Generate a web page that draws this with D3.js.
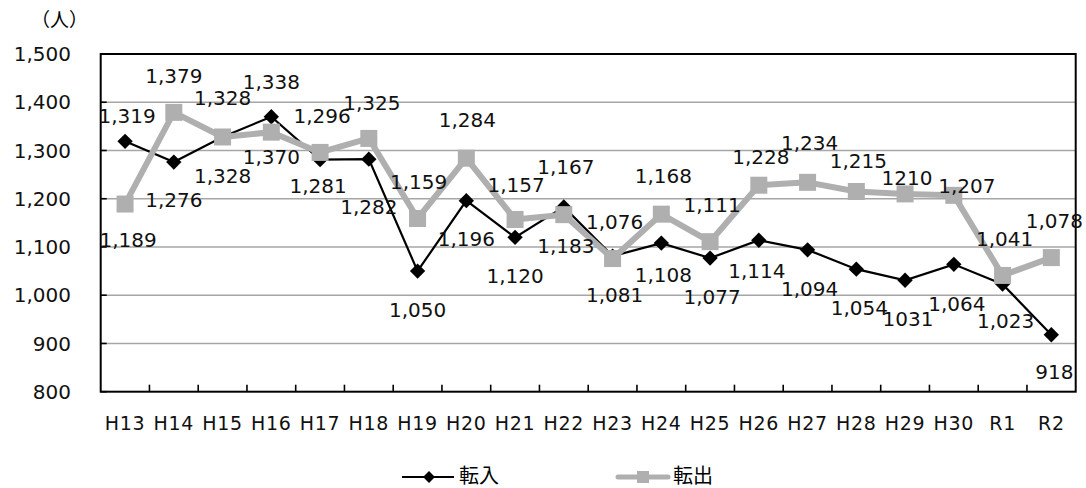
<!DOCTYPE html>
<html>
<head>
<meta charset="utf-8">
<script src="https://cdn.jsdelivr.net/npm/d3@7"></script>
<style>
  body { margin: 0; background: #fff; }
  svg { display: block; font-family: "DejaVu Sans", Verdana, "Noto Sans CJK JP", sans-serif; }
</style>
</head>
<body>
<svg id="chart" width="1086" height="488"></svg>
<script>
"use strict";

// data
var years = ["H13","H14","H15","H16","H17","H18","H19","H20","H21","H22",
             "H23","H24","H25","H26","H27","H28","H29","H30","R1","R2"];
var tennyu = [1319,1276,1328,1370,1281,1282,1050,1196,1120,1183,
              1081,1108,1077,1114,1094,1054,1031,1064,1023,918];
var tenshutsu = [1189,1379,1328,1338,1296,1325,1159,1284,1157,1167,
                 1076,1168,1111,1228,1234,1215,1210,1207,1041,1078];
var yTicks = [800,900,1000,1100,1200,1300,1400,1500];
// labels printed without thousands separator in the original
var plainLabelYears = ["H29"];

// label placement (offset from the marker, px)
var inLabelDy  = [-26,38,39,40,26,48,39,38,38,39,39,32,39,31,39,39,39,39,37,37];
var inLabelDx  = [2,0,0,0,-2,0,0,0,0,2,2,2,2,-2,2,3,3,3,3,3];
var outLabelDy = [36,-37,-39,-50,-37,-36,-37,-38,-35,-48,-37,-38,-37,-28,-40,-31,-16,-10,-37,-37];
var outLabelDx = [3,0,0,0,2,3,1,1,1,2,2,2,2,2,2,2,2,13,2,3];

var plotL = 100.7, plotR = 1075.7, plotT = 54, plotB = 391.7;

var svg = d3.select('#chart');

var x = d3.scaleBand().domain(years).range([plotL, plotR]);
var y = d3.scaleLinear().domain([800, 1500]).range([plotB, plotT]);
var cx = function (d, i) { return x(years[i]) + x.bandwidth() / 2; };

var fmt = function (v, i) {
  return plainLabelYears.indexOf(years[i]) >= 0 ? String(v) : d3.format(',')(v);
};

// gridlines
svg.append('g').selectAll('line')
  .data(yTicks.filter(function (t) { return t > 800 && t < 1500; }))
  .enter().append('line')
  .attr('x1', plotL).attr('x2', plotR)
  .attr('y1', function (t) { return y(t); })
  .attr('y2', function (t) { return y(t); })
  .attr('stroke', '#a6a6a6').attr('stroke-width', 1.6);

// y tick labels
svg.append('g').selectAll('text')
  .data(yTicks).enter().append('text')
  .attr('x', 71).attr('y', function (t) { return y(t); })
  .attr('dy', '0.36em')
  .attr('text-anchor', 'end')
  .attr('font-size', 20).attr('fill', '#111')
  .text(function (t) { return d3.format(',')(t); });

// y inner ticks
svg.append('g').selectAll('line')
  .data(yTicks).enter().append('line')
  .attr('x1', plotL).attr('x2', plotL + 6)
  .attr('y1', function (t) { return y(t); })
  .attr('y2', function (t) { return y(t); })
  .attr('stroke', '#000').attr('stroke-width', 1.6);

// x inner ticks at band boundaries
svg.append('g').selectAll('line')
  .data(years.slice(1)).enter().append('line')
  .attr('x1', function (d) { return x(d); })
  .attr('x2', function (d) { return x(d); })
  .attr('y1', plotB).attr('y2', plotB - 7)
  .attr('stroke', '#000').attr('stroke-width', 1.6);

// frame
svg.append('rect')
  .attr('x', plotL).attr('y', plotT)
  .attr('width', plotR - plotL).attr('height', plotB - plotT)
  .attr('fill', 'none').attr('stroke', '#000').attr('stroke-width', 2);

// x labels
svg.append('g').selectAll('text')
  .data(years).enter().append('text')
  .attr('x', function (d) { return x(d) + x.bandwidth() / 2; })
  .attr('y', 423).attr('dy', '0.36em')
  .attr('text-anchor', 'middle')
  .attr('font-size', 19).attr('letter-spacing', 0.8).attr('fill', '#111')
  .text(function (d) { return d; });

// unit
svg.append('text')
  .attr('x', 31).attr('y', 20).attr('dy', '0.36em')
  .attr('font-size', 19)
  .attr('font-family', '"Noto Sans CJK JP", sans-serif')
  .text('（人）');

var lineGen = d3.line()
  .x(cx)
  .y(function (d) { return y(d); });

// 転入 series
svg.append('path').datum(tennyu)
  .attr('d', lineGen)
  .attr('fill', 'none').attr('stroke', '#000').attr('stroke-width', 2.2);
svg.append('g').selectAll('path')
  .data(tennyu).enter().append('path')
  .attr('d', d3.symbol().type(d3.symbolDiamond2).size(150))
  .attr('transform', function (d, i) { return 'translate(' + cx(d, i) + ',' + y(d) + ')'; })
  .attr('fill', '#000');

// 転出 series
var grey = '#afafaf';
svg.append('path').datum(tenshutsu)
  .attr('d', lineGen)
  .attr('fill', 'none').attr('stroke', grey).attr('stroke-width', 6)
  .attr('stroke-linejoin', 'round');
svg.append('g').selectAll('rect')
  .data(tenshutsu).enter().append('rect')
  .attr('x', function (d, i) { return cx(d, i) - 8.5; })
  .attr('y', function (d) { return y(d) - 8.5; })
  .attr('width', 17).attr('height', 17)
  .attr('fill', grey);

// data labels
svg.append('g').selectAll('text')
  .data(tennyu).enter().append('text')
  .attr('x', function (d, i) { return cx(d, i) + inLabelDx[i]; })
  .attr('y', function (d, i) { return y(d) + inLabelDy[i]; })
  .attr('dy', '0.36em').attr('text-anchor', 'middle')
  .attr('font-size', 20).attr('fill', '#111')
  .text(fmt);
svg.append('g').selectAll('text')
  .data(tenshutsu).enter().append('text')
  .attr('x', function (d, i) { return cx(d, i) + outLabelDx[i]; })
  .attr('y', function (d, i) { return y(d) + outLabelDy[i]; })
  .attr('dy', '0.36em').attr('text-anchor', 'middle')
  .attr('font-size', 20).attr('fill', '#111')
  .text(fmt);

// legend
var legend = svg.append('g');
legend.append('line')
  .attr('x1', 402).attr('x2', 454).attr('y1', 477).attr('y2', 477)
  .attr('stroke', '#000').attr('stroke-width', 2.2);
legend.append('path')
  .attr('d', d3.symbol().type(d3.symbolDiamond2).size(90))
  .attr('transform', 'translate(429,477)').attr('fill', '#000');
legend.append('text')
  .attr('x', 459).attr('y', 476).attr('dy', '0.36em')
  .attr('font-size', 20).attr('font-family', '"Noto Sans CJK JP", sans-serif')
  .text('転入');

legend.append('line')
  .attr('x1', 618).attr('x2', 668).attr('y1', 477).attr('y2', 477)
  .attr('stroke', grey).attr('stroke-width', 5).attr('stroke-linecap', 'round');
legend.append('rect')
  .attr('x', 637).attr('y', 471).attr('width', 12).attr('height', 12)
  .attr('fill', grey);
legend.append('text')
  .attr('x', 673).attr('y', 476).attr('dy', '0.36em')
  .attr('font-size', 20).attr('font-family', '"Noto Sans CJK JP", sans-serif')
  .text('転出');
</script>
</body>
</html>
